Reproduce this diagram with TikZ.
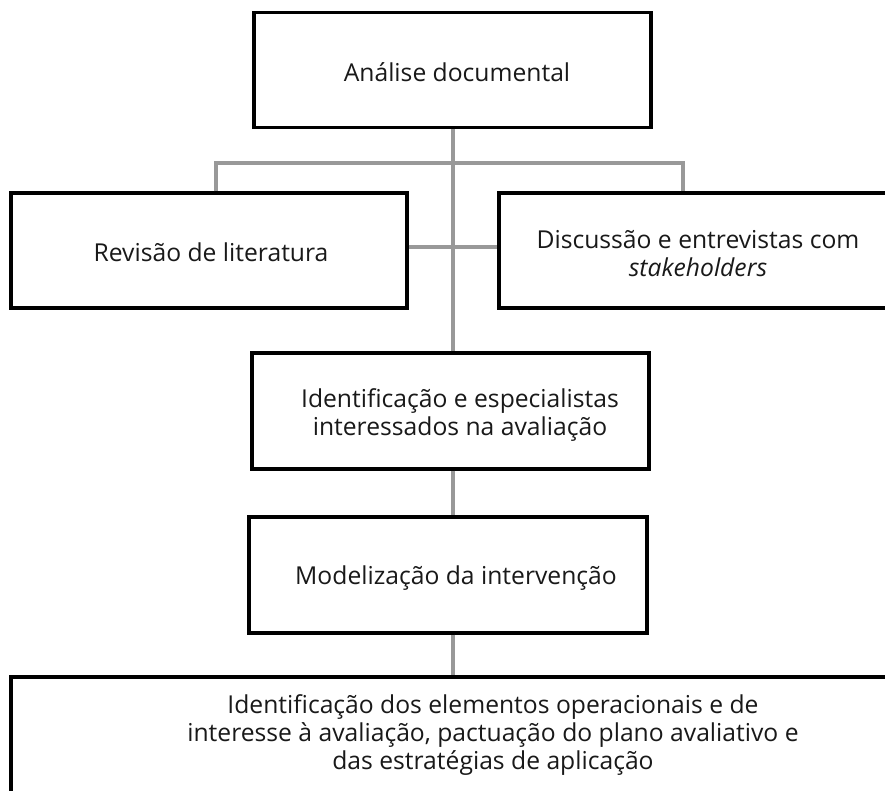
\documentclass[tikz,border=0pt]{standalone}
\usepackage{fontspec}
\setmainfont{Open Sans}
\begin{document}
\begin{tikzpicture}[x=0.75pt,y=-0.75pt,
  box/.style={draw=black, line width=2.4pt, fill=white, inner sep=0pt},
  conn/.style={draw=black!40, line width=2.4pt},
  lbl/.style={font=\fontsize{18.5pt}{21pt}\selectfont, align=center, inner sep=0pt, text=black!90}]
\useasboundingbox (0,0) rectangle (885,790);
\clip (0,0) rectangle (885,790);

% connectors are drawn after the boxes, from border to border
% boxes
\node[box, minimum width={397*0.75pt}, minimum height={115*0.75pt}] (b1) at (452.5,70) {};
\node[box, minimum width={396*0.75pt}, minimum height={115*0.75pt}] (b2) at (209,250.5) {};
\node[box, minimum width={401*0.75pt}, minimum height={115*0.75pt}] (b3) at (699.5,250.5) {};
\node[box, minimum width={397*0.75pt}, minimum height={116*0.75pt}] (b4) at (450.5,411) {};
\node[box, minimum width={398*0.75pt}, minimum height={116*0.75pt}] (b5) at (448,575) {};
\node[box, minimum width={964*0.75pt}, minimum height={183*0.75pt}] (b6) at (493,768.5) {};

% texts
\node[lbl] (t1) at (457,72) {Análise documental};
\node[lbl] (t2) at (211,252) {Revisão de literatura};
\node[lbl] (t3) at (698,254) {Discussão e entrevistas com\\\textit{stakeholders}};
\node[lbl] (t4) at (460,415) {Identificação e especialistas\\interessados na avaliação};
\node[lbl] (t5) at (456,578) {Modelização da intervenção};
\node[lbl] (t6) at (493,735) {Identificação dos elementos operacionais e de\\interesse à avaliação, pactuação do plano avaliativo e\\das estratégias de aplicação};

% connectors
\coordinate (trunk) at (453,0);
\coordinate (lb) at (216,163);
\coordinate (rb) at (683,163);
\coordinate (hz) at (0,247);
\draw[conn] (b1.south -| trunk) -- (b4.north -| trunk);
\draw[conn] (b2.north -| lb) -- (lb) -- (rb) -- (b3.north -| rb);
\draw[conn] (b2.east |- hz) -- (b3.west |- hz);
\draw[conn] (b4.south -| trunk) -- (b5.north -| trunk);
\draw[conn] (b5.south -| trunk) -- (b6.north -| trunk);
\end{tikzpicture}
\end{document}
